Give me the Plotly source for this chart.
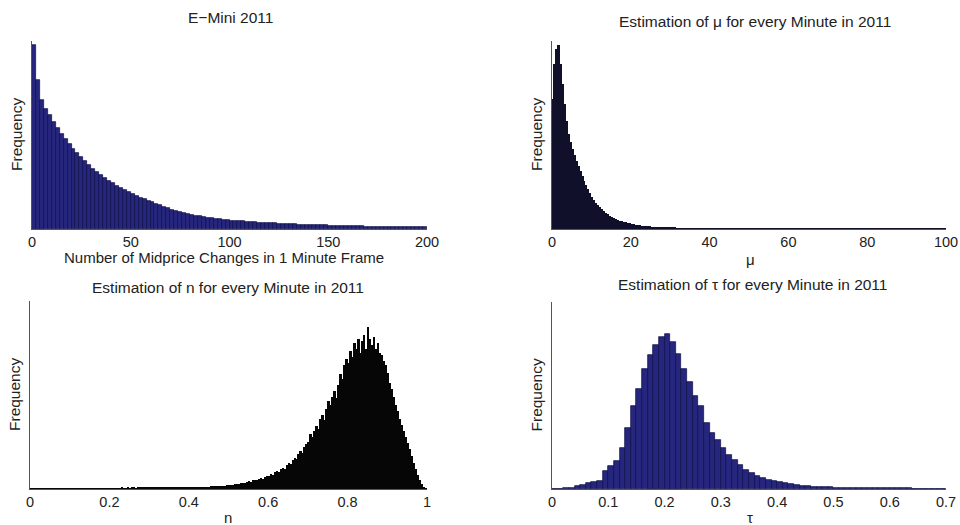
import numpy as np
import plotly.graph_objects as go

# ---------------- data (bar heights, arbitrary frequency units) -------------
EMINI_START, EMINI_WIDTH = 0, 2
emini_counts = [184,149,129,120,114,107,101,95,90,85,
                80,76,72,68,64,60,57,54,51,48,
                46,43,41,39,37,35,33,31,30,28,
                27,25.5,24,22.5,21,19.5,18.5,17,16,15,
                14.2,13.5,12.8,12,11.4,10.8,10.3,9.8,9.3,8.9,
                8.5,8.2,7.9,7.6,7.3,7.0,6.8,6.5,6.3,6.1,
                5.9,5.7,5.5,5.3,5.1,4.9,4.7,4.5,4.4,4.3,
                4.1,4.0,3.8,3.7,3.6,3.4,3.3,3.2,3.1,3.0,
                2.9,2.8,2.7,2.6,2.5,2.4,2.35,2.3,2.2,2.1,
                2.05,2.0,1.9,1.85,1.8,1.75,1.7,1.65,1.6,1.55]

MU_START, MU_WIDTH = 0, 0.5
mu_counts = [130,165,180,184,165,145,125,108,95,87,
             80,74,68,63,58,53,48,44,40,36,
             32,29,26,24,22,20,18,16.5,15,13.5,
             12,11,10,9.2,8.5,7.8,7.2,6.6,6.1,5.6,
             5.2,4.8,4.4,4.1,3.8,3.5,3.3,3.0,2.8,2.6,
             2.4,2.25,2.1,1.95,1.8,1.7,1.6,1.5,1.4,1.3,
             1.2,1.12,1.05,0.98,0.92,0.86,0.8,0.75,0.7,0.65,
             0.6,0.56,0.52,0.49,0.46,0.43,0.4,0.38,0.36,0.34]
MU_TAIL_START, MU_TAIL_WIDTH = 40, 1
mu_tail_counts = [0.32,0.3,0.29,0.28,0.26,0.25,0.24,0.23,0.22,0.21,
                  0.2,0.19,0.18,0.17,0.17,0.16,0.15,0.15,0.14,0.14,
                  0.13,0.13,0.12,0.12,0.11,0.11,0.1,0.1,0.1,0.09,
                  0.09,0.09,0.08,0.08,0.08,0.08,0.07,0.07,0.07,0.07,
                  0.06,0.06,0.06,0.06,0.06,0.05,0.05,0.05,0.05,0.05,
                  0.05,0.04,0.04,0.04,0.04,0.04,0.04,0.04,0.04,0.04]

N_START, N_WIDTH = 0, 0.005
n_counts = [0.4,0.3,0.5,0.4,0.3,0.4,0.5,0.4,0.3,0.5,
            0.4,0.5,0.6,0.4,0.5,0.6,0.5,0.4,0.6,0.5,
            0.6,0.5,0.7,0.6,0.5,0.7,0.6,0.8,0.6,0.7,
            0.8,0.7,0.6,0.8,0.9,0.7,0.8,0.9,0.8,0.7,
            0.9,1.0,0.8,0.9,1.0,0.9,1.1,1.0,0.9,1.1,
            1.0,1.2,1.1,1.0,1.2,1.1,1.3,1.2,1.1,1.3,
            1.2,1.4,1.3,1.2,1.4,1.3,1.5,1.4,1.3,1.5,
            1.4,1.6,1.5,1.4,1.6,1.5,1.7,1.6,1.5,1.7,
            1.4,1.6,1.5,1.8,1.7,2.0,1.9,2.2,2.1,2.4,
            2.3,2.6,2.8,2.7,3.0,3.2,3.1,3.5,3.4,3.8,
            4.0,4.5,4.2,5.0,5.4,5.1,6.0,6.5,6.2,7.2,
            7.8,7.4,8.6,9.3,8.9,10.2,11.0,10.5,12.2,13.0,
            13.5,15.0,14.2,16.8,18.0,17.2,20.0,21.5,20.5,24.0,
            26.0,25.0,29.0,31.5,30.0,35.0,38.0,36.5,42.0,45.0,
            47,55,52,58,63,60,70,74,69,80,
            88,84,92,98,91,104,115,110,124,130,
            126,138,132,146,140,150,136,148,154,140,
            162,150,144,152,140,146,136,134,128,124,
            116,106,100,92,84,78,70,64,58,52,
            46,40,33,26,20,14,9,5,2,0.5]

TAU_START, TAU_WIDTH = 0, 0.01
tau_counts = [0.5,0.5,0.6,0.7,2.7,4.3,6,7,7.7,17.7,
              22.7,27.7,41,61,82.7,99,119,133,143,151,
              154,146,134,119,106,93,83,66,56,49,
              41,34,29,24,19,16,13,11,9.3,7.7,
              6.7,5.7,4.7,4,3.3,2.8,2.4,2.1,1.8,1.6,
              1.4,1.3,1.2,1.1,1.0,0.95,0.9,0.85,0.8,0.75,
              0.7,0.65,0.6,0.55,0.5,0.5,0.45,0.4,0.4,0.35]

titles = ["E\u2212Mini 2011",
          "Estimation of \u03bc for every Minute in 2011",
          "Estimation of n for every Minute in 2011",
          "Estimation of \u03c4 for every Minute in 2011"]
xlabels = ["Number of Midprice Changes in 1 Minute Frame", "\u03bc", "n", "\u03c4"]
ylabel = "Frequency"
xticks = [[0, 50, 100, 150, 200],
          [0, 20, 40, 60, 80, 100],
          [0, 0.2, 0.4, 0.6, 0.8, 1],
          [0, 0.1, 0.2, 0.3, 0.4, 0.5, 0.6, 0.7]]
xtick_text = [["0", "50", "100", "150", "200"],
              ["0", "20", "40", "60", "80", "100"],
              ["0", "0.2", "0.4", "0.6", "0.8", "1"],
              ["0", "0.1", "0.2", "0.3", "0.4", "0.5", "0.6", "0.7"]]
xranges = [[0, 200], [0, 100], [0, 1], [0, 0.7]]
yranges = [[0, 188], [0, 188], [0, 188], [0, 186]]


def centers(start, width, counts):
    return start + width * (np.arange(len(counts)) + 0.5)


# ---------------- figure ----------------
W, H = 960, 525
FONT = "Liberation Sans, Arial, Helvetica, sans-serif"
TXT = "#222222"
BLUE = "#26267f"
BLUE_EDGE = "#0c0c45"

fig = go.Figure()

fig.add_trace(go.Bar(x=centers(EMINI_START, EMINI_WIDTH, emini_counts), y=emini_counts,
                     width=EMINI_WIDTH, marker=dict(color=BLUE, line=dict(color=BLUE_EDGE, width=0.7)),
                     xaxis="x", yaxis="y"))
mu_x = list(centers(MU_START, MU_WIDTH, mu_counts)) + list(centers(MU_TAIL_START, MU_TAIL_WIDTH, mu_tail_counts))
mu_w = [MU_WIDTH] * len(mu_counts) + [MU_TAIL_WIDTH] * len(mu_tail_counts)
fig.add_trace(go.Bar(x=mu_x, y=mu_counts + mu_tail_counts, width=mu_w,
                     marker=dict(color="#10102a", line=dict(width=0)),
                     xaxis="x2", yaxis="y2"))
fig.add_trace(go.Bar(x=centers(N_START, N_WIDTH, n_counts), y=n_counts, width=N_WIDTH,
                     marker=dict(color="#060606", line=dict(width=0)),
                     xaxis="x3", yaxis="y3"))
fig.add_trace(go.Bar(x=centers(TAU_START, TAU_WIDTH, tau_counts), y=tau_counts, width=TAU_WIDTH,
                     marker=dict(color=BLUE, line=dict(color=BLUE_EDGE, width=0.7)),
                     xaxis="x4", yaxis="y4"))

# pixel geometry of each panel: (left, right, bottom, top)
panels = [(32, 427, 229, 41), (552, 946, 229, 41), (30, 427, 489, 301), (552, 946, 489, 302)]
title_pos = [(230, 18), (755, 22), (228, 287), (752, 284)]
xlabel_pos = [(224, 257), (750, 259), (228, 517), (750, 517)]

layout = dict(width=W, height=H, margin=dict(l=0, r=0, t=0, b=0),
              paper_bgcolor="white", plot_bgcolor="white", showlegend=False,
              bargap=0, barmode="overlay",
              font=dict(family=FONT, size=12, color=TXT))
annotations = []
for i, (l, r, b, t) in enumerate(panels):
    sfx = "" if i == 0 else str(i + 1)
    layout["xaxis" + sfx] = dict(domain=[l / W, r / W], range=xranges[i], anchor="y" + sfx,
                                 tickvals=xticks[i], ticktext=xtick_text[i], ticks="",
                                 ticklabeloverflow="allow",
                                 showgrid=False, zeroline=False, showline=True,
                                 linecolor="#555555", linewidth=1, automargin=False,
                                 tickfont=dict(size=14.5, family=FONT, color=TXT))
    layout["yaxis" + sfx] = dict(domain=[1 - b / H, 1 - t / H], range=yranges[i], anchor="x" + sfx,
                                 showticklabels=False, ticks="", showgrid=False, zeroline=False,
                                 showline=True, linecolor="#555555", linewidth=1, automargin=False)
    tx, ty = title_pos[i]
    annotations.append(dict(text=titles[i], x=tx / W, y=1 - ty / H, xref="paper", yref="paper",
                            showarrow=False, xanchor="center", yanchor="middle",
                            font=dict(size=15.5, family=FONT, color=TXT)))
    lx, ly = xlabel_pos[i]
    annotations.append(dict(text=xlabels[i], x=lx / W, y=1 - ly / H, xref="paper", yref="paper",
                            showarrow=False, xanchor="center", yanchor="middle",
                            font=dict(size=15, family=FONT, color=TXT)))
    annotations.append(dict(text=ylabel, x=(l - 16) / W, y=1 - ((b + t) / 2) / H,
                            xref="paper", yref="paper", showarrow=False, textangle=-90,
                            xanchor="center", yanchor="middle",
                            font=dict(size=15.5, family=FONT, color=TXT)))
layout["annotations"] = annotations
fig.update_layout(**layout)

fig.write_html("out.html")
